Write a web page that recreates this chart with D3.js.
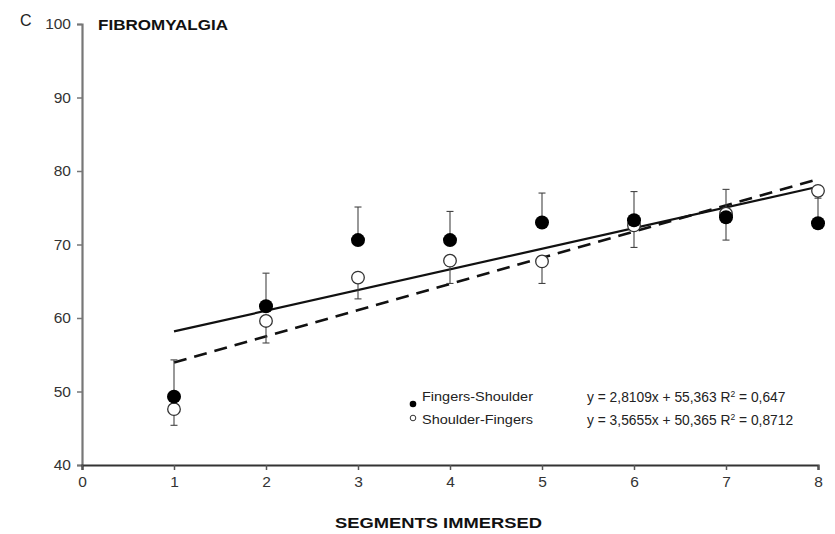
<!DOCTYPE html>
<html><head><meta charset="utf-8">
<script src="https://cdn.jsdelivr.net/npm/d3@7/dist/d3.min.js"></script>
<style>body{margin:0;background:#fff}svg{display:block;font-family:"Liberation Sans",Arial,sans-serif}</style>
</head><body><svg id="c" width="835" height="534"></svg>
<script>
const segments = [1, 2, 3, 4, 5, 6, 7, 8];
const fsMean = [49.3, 61.6, 70.6, 70.6, 73.0, 73.3, 73.7, 72.9];
const fsErrUp = [5.0, 4.5, 4.5, 3.9, 4.0, 3.9, 3.8, 4.3];
const sfMean = [47.6, 59.6, 65.5, 67.8, 67.7, 72.6, 74.2, 77.3];
const sfErrDown = [2.2, 3.0, 2.9, 3.1, 3.0, 3.0, 3.6, 1.0];
const fitFS = {slope: 2.8109, intercept: 55.363};
const fitSF = {slope: 3.5655, intercept: 50.365};
const xTicks = [0, 1, 2, 3, 4, 5, 6, 7, 8];
const yTicks = [40, 50, 60, 70, 80, 90, 100];
const legendLabels = ["Fingers-Shoulder", "Shoulder-Fingers"];

const svg = d3.select("#c");
const x = d3.scaleLinear().domain([0, 8]).range([82, 818]);
const y = d3.scaleLinear().domain([40, 100]).range([465, 24]);

// axes
const yAxis = svg.append("g").attr("transform", `translate(${x(0)},0)`)
  .call(d3.axisLeft(y).tickValues(yTicks).tickSize(5).tickPadding(6).tickFormat(d3.format("d")));
yAxis.select(".domain").attr("stroke", "#777").attr("stroke-width", 2.2);
yAxis.selectAll(".tick line").attr("stroke", "#777").attr("stroke-width", 1.5);
yAxis.selectAll("text").attr("font-size", 15.5).attr("fill", "#333");

const xAxis = svg.append("g").attr("transform", `translate(0,${y(40)})`)
  .call(d3.axisBottom(x).tickValues(xTicks).tickSize(5).tickPadding(6).tickFormat(d3.format("d")));
xAxis.select(".domain").attr("stroke", "#333").attr("stroke-width", 2.2);
xAxis.selectAll(".tick line").attr("stroke", "#555").attr("stroke-width", 1.5);
xAxis.selectAll("text").attr("font-size", 15.5).attr("fill", "#333");

// regression lines
const fitLine = f => [1, 8].map(v => [x(v), y(f.intercept + f.slope * v)]);
svg.append("path").attr("d", d3.line()(fitLine(fitFS))).attr("stroke", "#111").attr("stroke-width", 2.2).attr("fill", "none");
svg.append("path").attr("d", d3.line()(fitLine(fitSF))).attr("stroke", "#111").attr("stroke-width", 2.6).attr("fill", "none").attr("stroke-dasharray", "13,8");

// error bars
const cap = 3.5;
const eb = svg.append("g").attr("stroke", "#444").attr("stroke-width", 1.1);
segments.forEach((s, i) => {
  const top = y(fsMean[i] + fsErrUp[i]);
  eb.append("line").attr("x1", x(s)).attr("x2", x(s)).attr("y1", y(fsMean[i])).attr("y2", top);
  eb.append("line").attr("x1", x(s) - cap).attr("x2", x(s) + cap).attr("y1", top).attr("y2", top);
  const bot = y(sfMean[i] - sfErrDown[i]);
  eb.append("line").attr("x1", x(s)).attr("x2", x(s)).attr("y1", y(sfMean[i])).attr("y2", bot);
  eb.append("line").attr("x1", x(s) - cap).attr("x2", x(s) + cap).attr("y1", bot).attr("y2", bot);
});

// points
svg.append("g").selectAll("circle").data(segments).join("circle")
  .attr("cx", d => x(d)).attr("cy", (d, i) => y(sfMean[i])).attr("r", 6.3)
  .attr("fill", "#fff").attr("stroke", "#333").attr("stroke-width", 1.3);
svg.append("g").selectAll("circle").data(segments).join("circle")
  .attr("cx", d => x(d)).attr("cy", (d, i) => y(fsMean[i])).attr("r", 7)
  .attr("fill", "#000");

// titles
svg.append("text").attr("x", 20).attr("y", 26).attr("font-size", 16).attr("fill", "#222").text("C");
svg.append("text").attr("x", 98).attr("y", 30).attr("font-size", 15).attr("font-weight", "bold").attr("fill", "#111")
  .attr("textLength", 130).attr("lengthAdjust", "spacingAndGlyphs").text("FIBROMYALGIA");
svg.append("text").attr("x", 335).attr("y", 528).attr("font-size", 15.5).attr("font-weight", "bold").attr("fill", "#111")
  .attr("textLength", 207).attr("lengthAdjust", "spacingAndGlyphs").text("SEGMENTS IMMERSED");

// legend
svg.append("circle").attr("cx", 413).attr("cy", 404).attr("r", 3.3).attr("fill", "#000");
svg.append("circle").attr("cx", 413).attr("cy", 418).attr("r", 2.8).attr("fill", "#fff").attr("stroke", "#333").attr("stroke-width", 1);
legendLabels.forEach((t, i) => {
  svg.append("text").attr("x", 422).attr("y", 401 + i * 23).attr("font-size", 13.5).attr("fill", "#222")
    .attr("textLength", 111).attr("lengthAdjust", "spacingAndGlyphs").text(t);
});

// equations
const fmt = v => String(v).replace(".", ",");
[[fitFS, "0,647"], [fitSF, "0,8712"]].forEach(([f, r2], i) => {
  const t = svg.append("text").attr("x", 587).attr("y", 402 + i * 23).attr("font-size", 13.8).attr("fill", "#222");
  t.append("tspan").text(`y = ${fmt(f.slope)}x + ${fmt(f.intercept)} R`);
  t.append("tspan").attr("dy", -5).attr("font-size", 8.5).text("2");
  t.append("tspan").attr("dy", 5).text(` = ${r2}`);
});
</script></body></html>
